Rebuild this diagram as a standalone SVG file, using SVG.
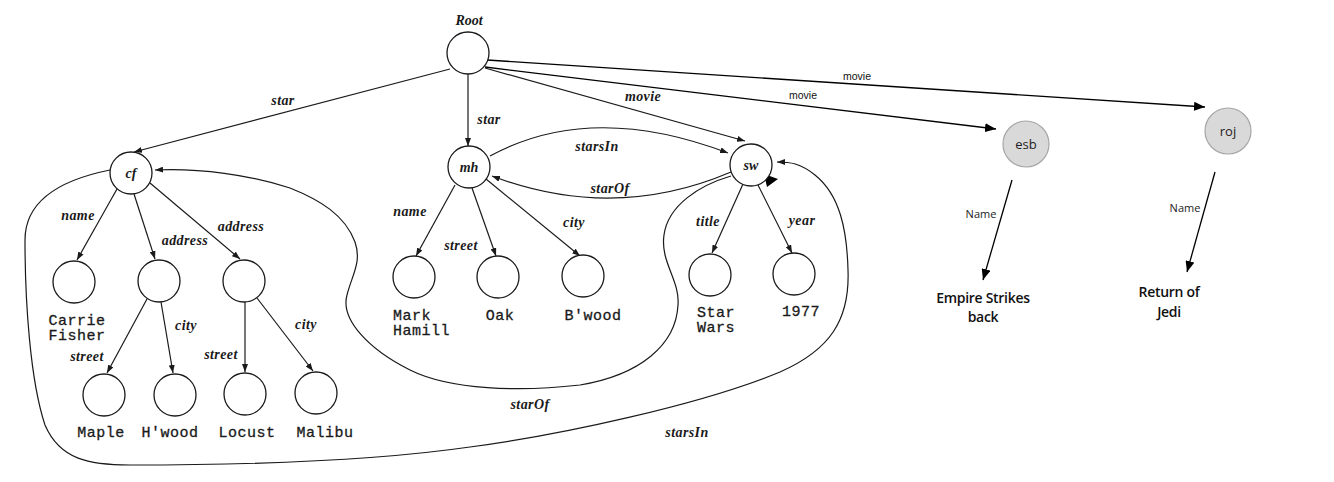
<svg xmlns="http://www.w3.org/2000/svg" width="1334" height="482" viewBox="0 0 1334 482">
<style>
.bg{fill:#ffffff}
.sn{fill:#ffffff;stroke:#1a1a1a;stroke-width:1.3}
.gn{fill:#d9d9d9;stroke:#a6a6a6;stroke-width:1.2}
.se{fill:none;stroke:#1a1a1a;stroke-width:1.2;marker-end:url(#sa)}
.me{fill:none;stroke:#000000;stroke-width:1.3;marker-end:url(#ma)}
.it{font-family:"Liberation Serif",serif;font-style:italic;font-weight:bold;font-size:14px;fill:#1a1a1a;text-anchor:middle;letter-spacing:0.4px}
.nl{font-family:"Liberation Serif",serif;font-style:italic;font-weight:bold;font-size:14px;fill:#1a1a1a;text-anchor:middle}
.mo{font-family:"Liberation Mono",monospace;font-size:15px;fill:#1a1a1a;stroke:#1a1a1a;stroke-width:0.3;text-anchor:middle;letter-spacing:0.5px}
.mol{font-family:"Liberation Mono",monospace;font-size:15px;fill:#1a1a1a;stroke:#1a1a1a;stroke-width:0.3;text-anchor:start;letter-spacing:0.5px}
.sa{font-family:"Liberation Sans",Arial,sans-serif;font-size:10.5px;fill:#111111;text-anchor:middle}
.os{font-family:"Open Sans",sans-serif;font-size:11px;fill:#222222;text-anchor:middle}
.ob{font-family:"Open Sans",sans-serif;font-size:14px;font-weight:600;fill:#111111;text-anchor:middle;letter-spacing:-0.3px}
.oc{font-family:"Open Sans",sans-serif;font-size:13px;fill:#222222;text-anchor:middle}
</style>
<defs>
<marker id="sa" markerUnits="userSpaceOnUse" markerWidth="8" markerHeight="6" refX="8" refY="3" orient="auto">
<path d="M0,0 L8,3 L0,6 z" fill="#1a1a1a"/>
</marker>
<marker id="ma" markerUnits="userSpaceOnUse" markerWidth="11" markerHeight="9" refX="11" refY="4.5" orient="auto">
<path d="M0,0 L11,4.5 L0,9 z" fill="#000000"/>
</marker>
</defs>
<rect class="bg" x="0" y="0" width="1334" height="482"/>

<g id="connectors">
<line class="se" x1="450" y1="69" x2="134" y2="152"/>
<line class="se" x1="468" y1="74" x2="468" y2="146"/>
<line class="se" x1="485" y1="68" x2="745" y2="141"/>
<line class="me" x1="487" y1="60" x2="1205" y2="107"/>
<line class="me" x1="485" y1="67" x2="996" y2="129"/>
<line class="se" x1="117" y1="189" x2="77" y2="260"/>
<line class="se" x1="134" y1="194" x2="155" y2="259"/>
<line class="se" x1="150" y1="183" x2="240" y2="259"/>
<line class="se" x1="147" y1="299" x2="107" y2="373"/>
<line class="se" x1="161" y1="302" x2="173" y2="373"/>
<line class="se" x1="245" y1="302" x2="245" y2="372"/>
<line class="se" x1="257" y1="298" x2="313" y2="371"/>
<line class="se" x1="455" y1="185" x2="416" y2="256"/>
<line class="se" x1="472" y1="188" x2="496" y2="256"/>
<line class="se" x1="486" y1="179" x2="580" y2="256"/>
<path class="se" d="M490,156 Q591,101 728,153"/>
<path class="se" d="M731,172 Q614,222 492,176"/>
<line class="se" x1="743" y1="184" x2="712" y2="253"/>
<line class="se" x1="758" y1="185" x2="792" y2="253"/>
<path class="se" d="M731,176 C700,185 668,205 664,235 C660,262 680,280 678,305 C676,345 640,375 580,385 C520,392 450,390 410,370 C370,350 340,320 347,295 C352,275 362,262 355,242 C345,215 320,200 290,188 C250,175 200,168 155,170"/>
<path class="se" d="M110,170 C60,180 25,200 25,240 C25,300 30,380 45,425 C60,460 90,465 130,465 C250,465 380,460 470,447 C560,435 700,405 780,372 C830,350 850,320 848,270 C847,230 840,195 815,175 C800,163 790,162 777,162"/>
<polygon points="764,174 778,179 767,187" fill="#000000"/>
<line class="me" x1="1012" y1="180" x2="983" y2="280"/>
<line class="me" x1="1215" y1="172" x2="1187" y2="272"/>
<text class="it" x="283" y="105">star</text>
<text class="it" x="489" y="124">star</text>
<text class="it" x="643" y="101">movie</text>
<text class="sa" x="857" y="80">movie</text>
<text class="sa" x="803" y="99">movie</text>
<text class="it" x="597" y="151">starsIn</text>
<text class="it" x="610" y="193">starOf</text>
<text class="it" x="78" y="220">name</text>
<text class="it" x="185" y="245">address</text>
<text class="it" x="241" y="231">address</text>
<text class="it" x="186" y="330">city</text>
<text class="it" x="306" y="329">city</text>
<text class="it" x="87" y="361">street</text>
<text class="it" x="221" y="359">street</text>
<text class="it" x="410" y="216">name</text>
<text class="it" x="461" y="250">street</text>
<text class="it" x="574" y="227">city</text>
<text class="it" x="708" y="226">title</text>
<text class="it" x="802" y="225">year</text>
<text class="it" x="530" y="409">starOf</text>
<text class="it" x="687" y="437">starsIn</text>
<text class="os" x="981" y="218">Name</text>
<text class="os" x="1185" y="212">Name</text>
</g>

<g id="root">
<circle class="sn" cx="468" cy="53" r="21"/>
<text class="nl" x="469" y="25">Root</text>
</g>
<g id="cf">
<circle class="sn" cx="131" cy="173" r="21"/>
<text class="nl" x="131" y="178">cf</text>
</g>
<g id="carrie">
<circle class="sn" cx="74" cy="282" r="21"/>
<text class="mo" x="77" y="325">Carrie</text>
<text class="mo" x="77" y="340">Fisher</text>
</g>
<g id="addr1">
<circle class="sn" cx="159" cy="281" r="21"/>
</g>
<g id="addr2">
<circle class="sn" cx="244" cy="281" r="21"/>
</g>
<g id="maple">
<circle class="sn" cx="104" cy="395" r="21"/>
<text class="mo" x="101" y="437">Maple</text>
</g>
<g id="hwood">
<circle class="sn" cx="175" cy="395" r="21"/>
<text class="mo" x="170" y="437">H'wood</text>
</g>
<g id="locust">
<circle class="sn" cx="245" cy="394" r="21"/>
<text class="mo" x="247" y="437">Locust</text>
</g>
<g id="malibu">
<circle class="sn" cx="316" cy="393" r="21"/>
<text class="mo" x="325" y="437">Malibu</text>
</g>
<g id="mh">
<circle class="sn" cx="469" cy="167" r="21"/>
<text class="nl" x="469" y="172">mh</text>
</g>
<g id="mark">
<circle class="sn" cx="414" cy="277" r="21"/>
<text class="mol" x="393" y="320">Mark</text>
<text class="mol" x="393" y="335">Hamill</text>
</g>
<g id="oak">
<circle class="sn" cx="498" cy="277" r="21"/>
<text class="mo" x="500" y="320">Oak</text>
</g>
<g id="bwood">
<circle class="sn" cx="583" cy="276" r="21"/>
<text class="mo" x="593" y="320">B'wood</text>
</g>
<g id="sw">
<circle class="sn" cx="751" cy="165" r="21"/>
<text class="nl" x="751" y="170">sw</text>
</g>
<g id="starwars">
<circle class="sn" cx="710" cy="275" r="21"/>
<text class="mol" x="697" y="317">Star</text>
<text class="mol" x="697" y="332">Wars</text>
</g>
<g id="y1977">
<circle class="sn" cx="794" cy="274" r="21"/>
<text class="mo" x="801" y="316">1977</text>
</g>
<g id="esb">
<circle class="gn" cx="1026" cy="144" r="23"/>
<text class="oc" x="1026" y="149">esb</text>
</g>
<g id="roj">
<circle class="gn" cx="1228" cy="131" r="23"/>
<text class="oc" x="1228" y="136">roj</text>
</g>
<g id="empire">
<text class="ob" x="983" y="303">Empire Strikes</text>
<text class="ob" x="983" y="322">back</text>
</g>
<g id="jedi">
<text class="ob" x="1169" y="297">Return of</text>
<text class="ob" x="1169" y="317">Jedi</text>
</g>
</svg>
